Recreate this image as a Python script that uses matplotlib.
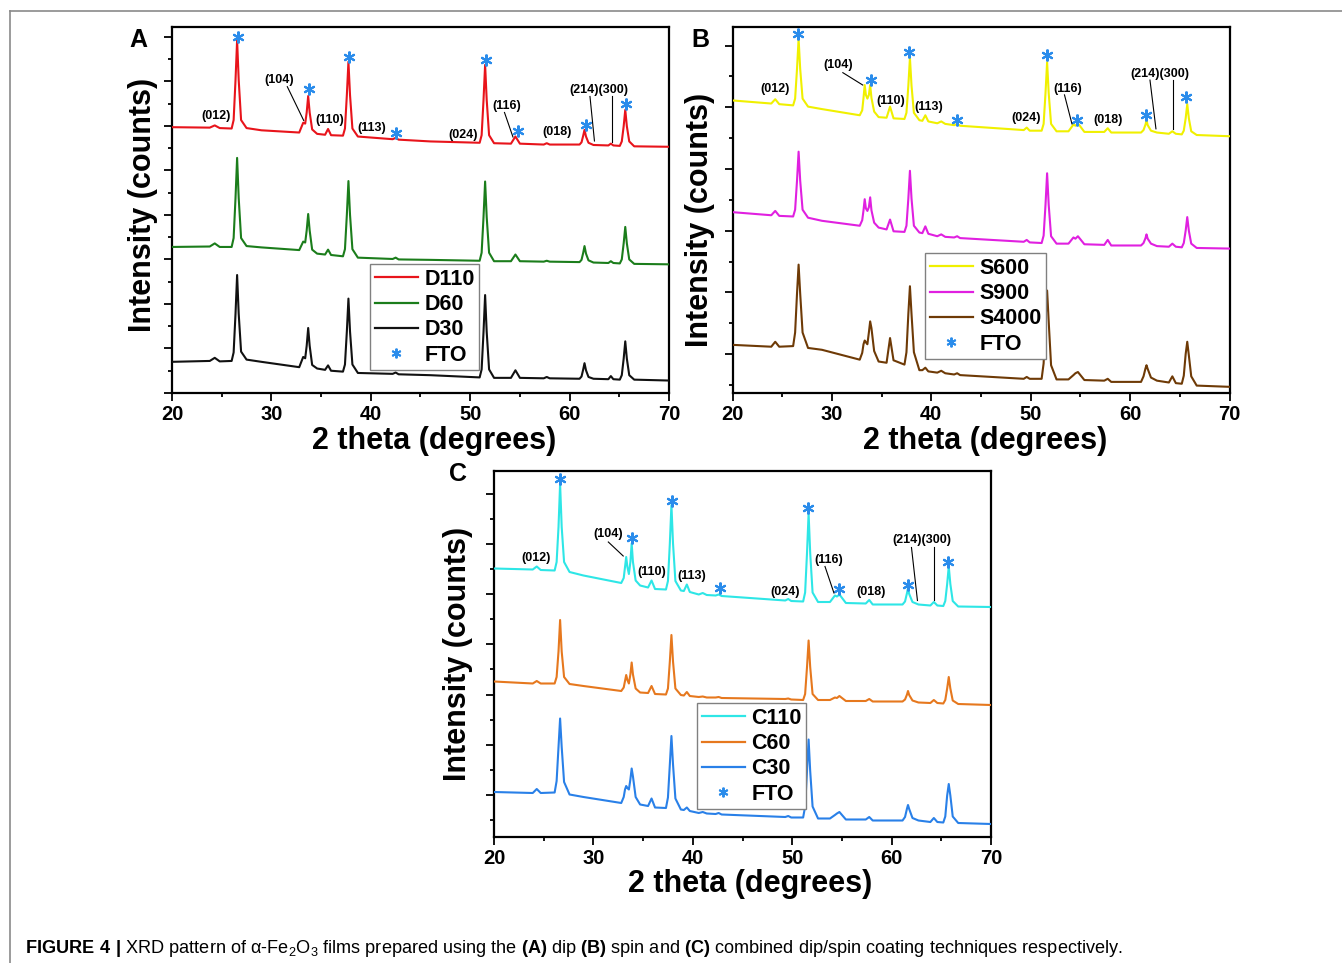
import matplotlib
matplotlib.use("Agg")
import matplotlib.pyplot as plt
from matplotlib.lines import Line2D
from matplotlib.ticker import MultipleLocator

plt.rcParams['font.family'] = ['Liberation Sans', 'DejaVu Sans']
plt.rcParams['mathtext.fontset'] = 'custom'
plt.rcParams['mathtext.rm'] = 'Liberation Sans'
plt.rcParams['mathtext.bf'] = 'Liberation Sans:bold'
plt.rcParams['mathtext.default'] = 'regular'

# ---------------- data ----------------
x_tick_labels = ["20", "30", "40", "50", "60", "70"]
x_tick_values = [20, 30, 40, 50, 60, 70]

two_theta_A = [20.0, 23.8, 24.3, 24.8, 26.0, 26.2, 26.39, 26.55, 26.71, 26.95,
               27.5, 29.0, 32.8, 33.2, 33.4, 33.55, 33.7, 33.85, 34.1, 34.6,
               35.4, 35.7, 36.0, 37.2, 37.4, 37.59, 37.75, 37.91, 38.15, 38.7,
               42.2, 42.5, 42.8, 46.0, 50.95, 51.15, 51.34, 51.5, 51.66, 51.9,
               52.4, 54.1, 54.55, 55.0, 57.4, 57.7, 58.0, 61.0, 61.2, 61.37,
               61.5, 61.65, 61.9, 62.4, 63.9, 64.15, 64.4, 65.05, 65.25, 65.44,
               65.6, 65.76, 66.0, 66.5, 70.0]

D110 = [5.97, 5.96, 6.01, 5.95, 5.94, 6.13, 7.03, 7.92, 7.03, 6.13,
        5.95, 5.90, 5.85, 6.07, 6.05, 6.30, 6.67, 6.30, 5.92, 5.82,
        5.80, 5.93, 5.79, 5.78, 5.94, 6.69, 7.44, 6.69, 5.94, 5.76,
        5.70, 5.73, 5.69, 5.65, 5.62, 5.79, 6.58, 7.37, 6.58, 5.79,
        5.61, 5.60, 5.76, 5.60, 5.58, 5.61, 5.58, 5.58, 5.63, 5.78,
        5.91, 5.76, 5.62, 5.57, 5.56, 5.60, 5.56, 5.55, 5.65, 5.99,
        6.36, 5.99, 5.65, 5.54, 5.53]

D60 = [3.28, 3.29, 3.36, 3.28, 3.28, 3.48, 4.38, 5.28, 4.38, 3.48,
       3.30, 3.27, 3.21, 3.40, 3.38, 3.65, 4.02, 3.65, 3.22, 3.13,
       3.11, 3.22, 3.10, 3.07, 3.23, 4.00, 4.76, 4.00, 3.23, 3.04,
       3.01, 3.04, 3.00, 2.99, 2.97, 3.15, 3.95, 4.75, 3.95, 3.15,
       2.96, 2.96, 3.11, 2.96, 2.95, 2.97, 2.95, 2.94, 2.99, 3.15,
       3.30, 3.13, 2.98, 2.93, 2.92, 2.96, 2.92, 2.91, 3.00, 3.36,
       3.73, 3.36, 3.00, 2.90, 2.89]

D30 = [0.70, 0.72, 0.79, 0.71, 0.72, 0.91, 1.78, 2.65, 1.78, 0.93,
       0.75, 0.70, 0.58, 0.81, 0.78, 1.06, 1.46, 1.06, 0.63, 0.55,
       0.52, 0.62, 0.50, 0.48, 0.64, 1.38, 2.12, 1.38, 0.64, 0.45,
       0.43, 0.46, 0.42, 0.40, 0.35, 0.53, 1.37, 2.20, 1.37, 0.53,
       0.34, 0.34, 0.51, 0.34, 0.33, 0.36, 0.33, 0.32, 0.37, 0.53,
       0.67, 0.51, 0.36, 0.32, 0.31, 0.38, 0.31, 0.30, 0.40, 0.77,
       1.16, 0.77, 0.40, 0.30, 0.28]

two_theta_BC = [20.0, 23.9, 24.3, 24.7, 26.1, 26.3, 26.49, 26.65, 26.81, 27.05,
                27.6, 29.0, 32.8, 33.05, 33.18, 33.3, 33.42, 33.57, 33.72, 33.85,
                33.98, 34.25, 34.7, 35.5, 35.85, 36.2, 37.3, 37.5, 37.69, 37.85,
                38.01, 38.25, 38.8, 39.1, 39.4, 39.7, 40.6, 41.0, 41.4, 42.3,
                42.6, 42.9, 49.3, 49.6, 49.9, 51.1, 51.3, 51.49, 51.65, 51.81,
                52.05, 52.6, 53.8, 54.3, 54.5, 54.75, 55.4, 57.4, 57.75, 58.1,
                61.1, 61.35, 61.55, 61.65, 61.77, 62.1, 62.7, 63.9, 64.25, 64.6,
                65.2, 65.4, 65.59, 65.75, 65.91, 66.15, 66.7, 70.0]

S600 = [5.11, 5.06, 5.13, 5.05, 5.03, 5.14, 5.62, 6.11, 5.62, 5.14,
        5.01, 4.97, 4.87, 4.95, 5.15, 5.36, 5.20, 5.14, 5.20, 5.36,
        5.15, 4.93, 4.84, 4.83, 5.01, 4.82, 4.81, 4.91, 5.35, 5.80,
        5.35, 4.91, 4.79, 4.78, 4.87, 4.77, 4.74, 4.77, 4.73, 4.71,
        4.73, 4.70, 4.63, 4.67, 4.62, 4.62, 4.73, 5.23, 5.73, 5.23,
        4.73, 4.61, 4.61, 4.72, 4.70, 4.74, 4.60, 4.60, 4.66, 4.59,
        4.59, 4.63, 4.72, 4.79, 4.71, 4.62, 4.59, 4.57, 4.61, 4.57,
        4.56, 4.62, 4.82, 5.05, 4.82, 4.61, 4.55, 4.53]

S900 = [3.30, 3.25, 3.32, 3.24, 3.23, 3.34, 3.81, 4.28, 3.81, 3.34,
        3.21, 3.16, 3.08, 3.17, 3.33, 3.51, 3.36, 3.32, 3.38, 3.54,
        3.33, 3.13, 3.05, 3.02, 3.18, 2.99, 2.98, 3.08, 3.52, 3.97,
        3.52, 3.08, 2.97, 2.96, 3.07, 2.95, 2.91, 2.94, 2.90, 2.89,
        2.91, 2.88, 2.82, 2.85, 2.81, 2.80, 2.92, 3.42, 3.93, 3.42,
        2.91, 2.79, 2.79, 2.89, 2.87, 2.91, 2.78, 2.77, 2.85, 2.76,
        2.76, 2.80, 2.88, 2.94, 2.87, 2.79, 2.75, 2.74, 2.79, 2.74,
        2.73, 2.80, 3.00, 3.22, 3.00, 2.79, 2.72, 2.71]

S4000 = [1.15, 1.12, 1.20, 1.12, 1.13, 1.35, 1.98, 2.45, 1.98, 1.35,
         1.10, 1.07, 0.91, 1.02, 1.16, 1.22, 1.19, 1.16, 1.35, 1.53,
         1.42, 1.05, 0.88, 0.86, 1.26, 0.90, 0.83, 1.03, 1.65, 2.10,
         1.65, 1.03, 0.74, 0.74, 0.78, 0.72, 0.70, 0.73, 0.69, 0.67,
         0.69, 0.66, 0.60, 0.63, 0.60, 0.60, 0.85, 1.53, 2.03, 1.53,
         0.82, 0.59, 0.59, 0.66, 0.69, 0.71, 0.58, 0.57, 0.60, 0.55,
         0.55, 0.64, 0.77, 0.82, 0.76, 0.62, 0.57, 0.54, 0.64, 0.53,
         0.52, 0.65, 1.00, 1.20, 0.98, 0.64, 0.49, 0.47]

C110 = [5.52, 5.50, 5.56, 5.49, 5.48, 5.65, 6.35, 7.21, 6.35, 5.65,
        5.45, 5.38, 5.23, 5.33, 5.55, 5.75, 5.55, 5.41, 5.65, 6.02,
        5.65, 5.28, 5.18, 5.14, 5.28, 5.11, 5.10, 5.27, 6.02, 6.79,
        6.02, 5.27, 5.08, 5.07, 5.20, 5.05, 5.00, 5.03, 4.99, 4.98,
        5.00, 4.97, 4.88, 4.91, 4.87, 4.86, 5.04, 5.83, 6.62, 5.83,
        5.04, 4.85, 4.85, 4.98, 4.96, 5.00, 4.83, 4.82, 4.89, 4.80,
        4.80, 4.86, 5.03, 5.13, 5.01, 4.85, 4.80, 4.78, 4.85, 4.78,
        4.77, 4.87, 5.21, 5.56, 5.21, 4.87, 4.76, 4.75]

C60 = [3.26, 3.22, 3.27, 3.22, 3.22, 3.35, 3.86, 4.49, 3.86, 3.35,
       3.21, 3.17, 3.07, 3.14, 3.27, 3.39, 3.29, 3.22, 3.40, 3.64,
       3.40, 3.12, 3.04, 3.03, 3.17, 3.01, 3.00, 3.12, 3.66, 4.19,
       3.66, 3.12, 2.99, 2.98, 3.05, 2.97, 2.95, 2.96, 2.94, 2.94,
       2.95, 2.93, 2.91, 2.92, 2.90, 2.89, 3.01, 3.55, 4.08, 3.55,
       3.01, 2.89, 2.89, 2.94, 2.93, 2.97, 2.87, 2.87, 2.91, 2.86,
       2.86, 2.90, 3.00, 3.07, 2.99, 2.88, 2.84, 2.83, 2.89, 2.83,
       2.82, 2.89, 3.12, 3.35, 3.12, 2.88, 2.81, 2.79]

C30 = [1.05, 1.03, 1.11, 1.03, 1.04, 1.27, 1.95, 2.52, 1.95, 1.25,
       1.00, 0.95, 0.83, 0.95, 1.10, 1.17, 1.13, 1.10, 1.30, 1.52,
       1.36, 0.95, 0.80, 0.77, 0.92, 0.74, 0.73, 0.94, 1.60, 2.17,
       1.60, 0.92, 0.70, 0.69, 0.74, 0.67, 0.63, 0.65, 0.62, 0.61,
       0.63, 0.60, 0.55, 0.57, 0.54, 0.54, 0.76, 1.47, 2.10, 1.47,
       0.76, 0.52, 0.52, 0.59, 0.62, 0.65, 0.50, 0.50, 0.55, 0.48,
       0.48, 0.55, 0.72, 0.79, 0.71, 0.53, 0.48, 0.45, 0.53, 0.45,
       0.44, 0.56, 0.98, 1.21, 0.98, 0.56, 0.43, 0.41]

hkl_labels = ["(012)", "(104)", "(110)", "(113)", "(024)", "(116)", "(018)", "(214)(300)"]

hkl_A_x = [24.4, 30.8, 35.9, 40.1, 49.3, 53.7, 58.75, 62.9]
hkl_A_y = [6.22, 7.03, 6.13, 5.96, 5.79, 6.45, 5.87, 6.81]
hkl_B_x = [24.25, 30.6, 35.9, 39.7, 49.5, 53.7, 57.75, 63.0]
hkl_B_y = [5.29, 5.68, 5.10, 5.00, 4.82, 5.29, 4.80, 5.54]
hkl_C_x = [24.25, 31.5, 35.85, 39.9, 49.25, 53.7, 57.9, 63.0]
hkl_C_y = [5.73, 6.20, 5.45, 5.36, 5.05, 5.68, 5.06, 6.08]

# leader lines: (x0, y0, x1, y1) for (104), (116), (214), (300)
leaders_A = [(31.6, 6.88, 33.25, 6.12), (53.45, 6.30, 54.3, 5.75),
             (62.05, 6.66, 62.5, 5.66), (64.3, 6.66, 64.3, 5.64)]
leaders_B = [(31.1, 5.56, 33.1, 5.36), (53.4, 5.20, 54.15, 4.73),
             (62.0, 5.44, 62.6, 4.65), (64.3, 5.44, 64.3, 4.65)]
leaders_C = [(31.5, 6.05, 33.0, 5.77), (53.3, 5.56, 54.2, 5.03),
             (62.0, 5.94, 62.6, 4.88), (64.3, 5.94, 64.3, 4.88)]

fto_A_x = [26.6, 33.8, 37.8, 42.5, 51.6, 54.8, 61.7, 65.7]
fto_A_y = [8.00, 6.82, 7.54, 5.83, 7.47, 5.88, 6.02, 6.49]
fto_B_x = [26.6, 33.9, 37.8, 42.55, 51.6, 54.7, 61.6, 65.6]
fto_B_y = [6.18, 5.44, 5.90, 4.80, 5.85, 4.80, 4.87, 5.16]
fto_C_x = [26.6, 33.87, 37.9, 42.7, 51.6, 54.75, 61.6, 65.7]
fto_C_y = [7.30, 6.12, 6.87, 5.13, 6.73, 5.11, 5.19, 5.65]

# ---------------- styling ----------------
W, H = 1342, 963
fig = plt.figure(figsize=(W / 100, H / 100), dpi=100)
FTO_COLOR = '#2A8CEB'
BOLD = 'bold'


def fx(px):
    return px / W


def fy(py):
    return 1 - py / H


def panel(rect, x, curves, ylim, letter, letter_xy, xlabel_xy, ylabel_xy,
          hkl_x, hkl_y, leaders, fto_x, fto_y, leg_xy):
    ax = fig.add_axes(rect)
    for y, color, label in curves:
        ax.plot(x, y, color=color, lw=1.5, label=label, zorder=3)
    ax.plot(fto_x, fto_y, linestyle='None', marker=(6, 2, 0), ms=8.5,
            mew=1.5, color=FTO_COLOR, zorder=4)
    for s, tx, ty in zip(hkl_labels, hkl_x, hkl_y):
        ax.text(tx, ty, s, fontsize=9, fontweight=BOLD, ha='center',
                va='center', zorder=5)
    for x0, y0, x1, y1 in leaders:
        ax.plot([x0, x1], [y0, y1], color='black', lw=0.8, zorder=4)
    ax.set_xlim(20, 70)
    ax.set_ylim(*ylim)
    ax.set_xticks(x_tick_values)
    ax.set_xticklabels(x_tick_labels, fontsize=14.5, fontweight=BOLD)
    ax.xaxis.set_minor_locator(MultipleLocator(5))
    ax.yaxis.set_major_locator(MultipleLocator(1))
    ax.yaxis.set_minor_locator(MultipleLocator(0.5))
    ax.tick_params(axis='both', which='major', direction='out', length=5.5,
                   width=1.3, pad=3, labelleft=False)
    ax.tick_params(axis='both', which='minor', direction='out', length=3,
                   width=1.3)
    for sp in ax.spines.values():
        sp.set_linewidth(1.6)
    handles = [Line2D([], [], color=c, lw=1.6) for _, c, _ in curves]
    handles.append(Line2D([], [], linestyle='None', marker=(6, 2, 0), ms=7,
                          mew=1.4, color=FTO_COLOR))
    labels = [lab for _, _, lab in curves] + ["FTO"]
    leg = ax.legend(handles, labels, loc='upper left',
                    bbox_to_anchor=(fx(leg_xy[0]), fy(leg_xy[1])),
                    bbox_transform=fig.transFigure,
                    prop={'family': 'Liberation Sans', 'weight': 'bold', 'size': 15.5},
                    handlelength=2.0, handletextpad=0.3, labelspacing=0.2,
                    borderpad=0.22, borderaxespad=0, fancybox=False,
                    framealpha=1, edgecolor='#808080')
    leg.get_frame().set_linewidth(1.0)
    fig.text(fx(letter_xy[0]), fy(letter_xy[1]), letter, fontsize=18,
             fontweight=BOLD, ha='center', va='center')
    fig.text(fx(xlabel_xy[0]), fy(xlabel_xy[1]), "2 theta (degrees)",
             fontsize=22, fontweight=BOLD, ha='center', va='center')
    fig.text(fx(ylabel_xy[0]), fy(ylabel_xy[1]), "Intensity (counts)",
             fontsize=22, fontweight=BOLD, ha='center', va='center',
             rotation=90)
    return ax


aw, ah = 497 / W, 366 / H

panel([fx(172), fy(393), aw, ah], two_theta_A,
      [(D110, '#E8141B', 'D110'), (D60, '#1B7D1B', 'D60'), (D30, '#111111', 'D30')],
      (0, 8.22), "A", (138, 40), (434, 441), (143, 205),
      hkl_A_x, hkl_A_y, leaders_A, fto_A_x, fto_A_y, (370, 264))

panel([fx(732.5), fy(393), aw, ah], two_theta_BC,
      [(S600, '#F0F000', 'S600'), (S900, '#E020E0', 'S900'), (S4000, '#6E3A06', 'S4000')],
      (0.37, 6.30), "B", (700, 40), (985, 441), (700, 220),
      hkl_B_x, hkl_B_y, leaders_B, fto_B_x, fto_B_y, (925, 253))

panel([fx(494), fy(837), aw, ah], two_theta_BC,
      [(C110, '#2EE6E6', 'C110'), (C60, '#E6781E', 'C60'), (C30, '#2980E8', 'C30')],
      (0.15, 7.47), "C", (458, 474), (750, 884), (458, 654),
      hkl_C_x, hkl_C_y, leaders_C, fto_C_x, fto_C_y, (697, 703))

# figure frame (top and left rules)
fig.add_artist(Line2D([fx(9.5), 1], [fy(10.7), fy(10.7)], color='#8a8a8a', lw=1.2))
fig.add_artist(Line2D([fx(9.5), fx(9.5)], [fy(10.7), 0], color='#8a8a8a', lw=1.2))

caption = (r"$\mathbf{FIGURE\ 4\ |}$ XRD pattern of α-Fe$_2$O$_3$ films prepared using the "
           r"$\mathbf{(A)}$ dip $\mathbf{(B)}$ spin and $\mathbf{(C)}$ combined dip/spin "
           r"coating techniques respectively.")
fig.text(fx(25), fy(948), caption, fontsize=13.1, ha='left', va='center')

fig.savefig("out.png", dpi=100)
